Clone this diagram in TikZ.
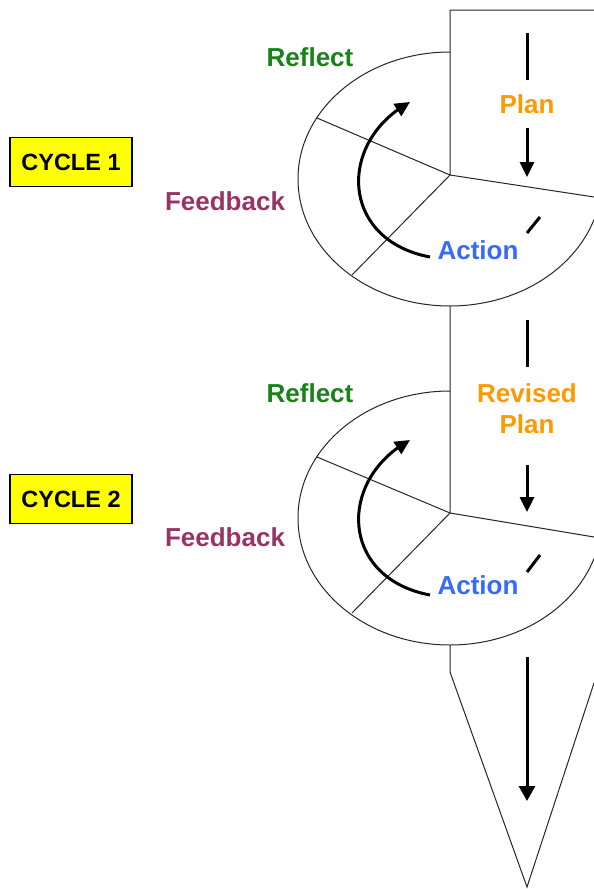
\documentclass[tikz,border=0pt]{standalone}
\usepackage{fontspec}
\setmainfont{Liberation Sans}
\usetikzlibrary{arrows.meta,bending}
\definecolor{reflcol}{RGB}{25,130,25}
\definecolor{plancol}{RGB}{255,153,0}
\definecolor{actcol}{RGB}{55,105,255}
\definecolor{feedcol}{RGB}{153,51,102}
\definecolor{cycfill}{RGB}{255,255,0}
\begin{document}
\begin{tikzpicture}[x=1pt,y=-1pt,
  outline/.style={line width=1pt,draw=black!85},
  bigarrow/.style={line width=3pt,-{Triangle[length=15pt,width=14pt]}},
  curvearrow/.style={line width=3pt,-{Triangle[length=15pt,width=14pt,flex]}},
  thickseg/.style={line width=3pt},
  lbl/.style={font=\fontsize{26}{31}\selectfont\bfseries, inner sep=0pt, align=center},
  cyc/.style={draw=black, line width=1.2pt, fill=cycfill, font=\fontsize{23.5}{27}\selectfont\bfseries, minimum width=122pt, minimum height=49pt, inner sep=0pt}]
\fill[white] (0,0) rectangle (594,889);
\useasboundingbox (0,0) rectangle (594,889);

% ---------- coordinates ----------
\coordinate (topR) at (594,10);
\coordinate (topL) at (450,10);
\coordinate (c1) at (450,175);
\coordinate (c1r) at (594,197);
\coordinate (c1a) at (317,118);
\coordinate (c1b) at (352,275);
\coordinate (e1top) at (450,52);
\coordinate (e1bot) at (450,306);
\coordinate (c2) at (450,513);
\coordinate (c2r) at (594,537);
\coordinate (c2a) at (317,457);
\coordinate (c2b) at (352,613);
\coordinate (e2top) at (450,391);
\coordinate (e2bot) at (450,645);
\coordinate (v1) at (450,672);
\coordinate (vtip) at (527,887);
\coordinate (vr) at (594,683);

% ---------- outline shapes ----------
\draw[outline] (topR) -- (topL) -- (c1) -- (c1r);
\draw[outline] (c1) -- (c1a);
\draw[outline] (c1) -- (c1b);
\draw[outline] (e1top) arc[start angle=270, end angle=18.6, x radius=152, y radius=127];
\draw[outline] (e1bot) -- (c2) -- (c2r);
\draw[outline] (c2) -- (c2a);
\draw[outline] (c2) -- (c2b);
\draw[outline] (e2top) arc[start angle=270, end angle=18.6, x radius=152, y radius=127];
\draw[outline] (e2bot) -- (v1) -- (vtip) -- (vr);

% ---------- labels ----------
\node[lbl, text=reflcol] (refl1) at (310,57) {Reflect};
\node[lbl, text=plancol] (plan1) at (527,104) {Plan};
\node[lbl, text=feedcol] (feed1) at (225,201) {Feedback};
\node[lbl, text=actcol] (act1) at (478,250) {Action};
\node[cyc] (cyc1) at (71,162) {CYCLE 1};

\node[lbl, text=reflcol] (refl2) at (310,393) {Reflect};
\node[lbl, text=plancol] (plan2) at (527,409) {Revised\\Plan};
\node[lbl, text=feedcol] (feed2) at (225,537) {Feedback};
\node[lbl, text=actcol] (act2) at (478,585) {Action};
\node[cyc] (cyc2) at (71,499) {CYCLE 2};

% ---------- arrows ----------
\coordinate (p1a) at (527,33);
\coordinate (p1b) at (527,80);
\coordinate (p1c) at (527,128);
\coordinate (p1d) at (527,177);
\coordinate (d1a) at (527,233);
\coordinate (d1b) at (540,217);
\coordinate (ca1s) at (430,257);
\coordinate (ca1e) at (410,102);

\coordinate (p2a) at (527,320);
\coordinate (p2b) at (527,367);
\coordinate (p2c) at (527,465);
\coordinate (p2d) at (527,512);
\coordinate (d2a) at (527,572);
\coordinate (d2b) at (540,555);
\coordinate (ca2s) at (430,595);
\coordinate (ca2e) at (410,440);

\coordinate (p3a) at (527,657);
\coordinate (p3b) at (527,801);

\draw[thickseg] (p1a) -- (p1b);
\draw[bigarrow] (p1c) -- (p1d);
\draw[thickseg] (d1a) -- (d1b);
\draw[curvearrow] (ca1s) .. controls (340,240) and (337,142) .. (ca1e);

\draw[thickseg] (p2a) -- (p2b);
\draw[bigarrow] (p2c) -- (p2d);
\draw[thickseg] (d2a) -- (d2b);
\draw[curvearrow] (ca2s) .. controls (340,578) and (337,480) .. (ca2e);

\draw[line width=3pt,-{Triangle[length=15pt,width=16pt]}] (p3a) -- (p3b);
\end{tikzpicture}
\end{document}
